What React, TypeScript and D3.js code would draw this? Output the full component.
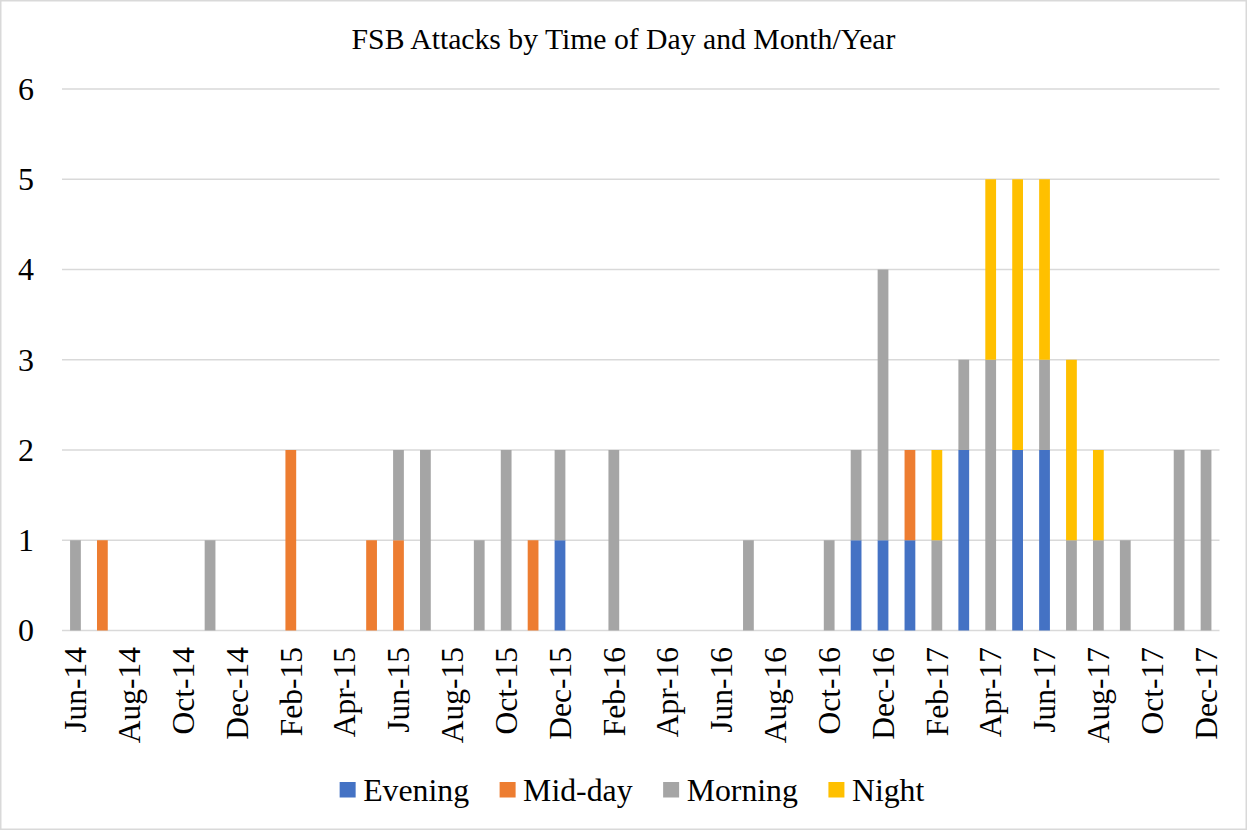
import React, { useEffect, useRef } from "react";
import * as d3 from "d3";

// Monthly categories, June 2014 through December 2017
const months = [
  "Jun-14", "Jul-14", "Aug-14", "Sep-14", "Oct-14", "Nov-14", "Dec-14",
  "Jan-15", "Feb-15", "Mar-15", "Apr-15", "May-15", "Jun-15", "Jul-15",
  "Aug-15", "Sep-15", "Oct-15", "Nov-15", "Dec-15", "Jan-16", "Feb-16",
  "Mar-16", "Apr-16", "May-16", "Jun-16", "Jul-16", "Aug-16", "Sep-16",
  "Oct-16", "Nov-16", "Dec-16", "Jan-17", "Feb-17", "Mar-17", "Apr-17",
  "May-17", "Jun-17", "Jul-17", "Aug-17", "Sep-17", "Oct-17", "Nov-17",
  "Dec-17",
];

// Attack counts per month for each time of day
const evening = [
  0, 0, 0, 0, 0, 0, 0, 0, 0, 0, 0, 0, 0, 0, 0, 0, 0, 0, 1, 0, 0, 0,
  0, 0, 0, 0, 0, 0, 0, 1, 1, 1, 0, 2, 0, 2, 2, 0, 0, 0, 0, 0, 0,
];
const midday = [
  0, 1, 0, 0, 0, 0, 0, 0, 2, 0, 0, 1, 1, 0, 0, 0, 0, 1, 0, 0, 0, 0,
  0, 0, 0, 0, 0, 0, 0, 0, 0, 1, 0, 0, 0, 0, 0, 0, 0, 0, 0, 0, 0,
];
const morning = [
  1, 0, 0, 0, 0, 1, 0, 0, 0, 0, 0, 0, 1, 2, 0, 1, 2, 0, 1, 0, 2, 0,
  0, 0, 0, 1, 0, 0, 1, 1, 3, 0, 1, 1, 3, 0, 1, 1, 1, 1, 0, 2, 2,
];
const night = [
  0, 0, 0, 0, 0, 0, 0, 0, 0, 0, 0, 0, 0, 0, 0, 0, 0, 0, 0, 0, 0, 0,
  0, 0, 0, 0, 0, 0, 0, 0, 0, 0, 1, 0, 2, 3, 2, 2, 1, 0, 0, 0, 0,
];

const seriesNames = ["Evening", "Mid-day", "Morning", "Night"];
const seriesColors = ["#4472C4", "#ED7D31", "#A5A5A5", "#FFC000"];
const yTicks = [0, 1, 2, 3, 4, 5, 6];
const chartTitle = "FSB Attacks by Time of Day and Month/Year";

const W = 1247;
const H = 830;
const FONT = "'Liberation Serif', 'Times New Roman', serif";

export default function App() {
  const ref = useRef<SVGSVGElement | null>(null);

  useEffect(() => {
    const svg = d3.select(ref.current);
    svg.selectAll("*").remove();

    const rows = months.map((m, i) => ({
      month: m,
      Evening: evening[i],
      "Mid-day": midday[i],
      Morning: morning[i],
      Night: night[i],
    }));

    const x = d3
      .scaleBand<string>()
      .domain(months)
      .range([62, 1219.5])
      .paddingInner(0.6)
      .paddingOuter(0.3);
    const y = d3.scaleLinear().domain([0, 6]).range([630.5, 89]);
    const color = d3.scaleOrdinal<string, string>().domain(seriesNames).range(seriesColors);

    // chart frame
    svg
      .append("rect")
      .attr("x", 0.75)
      .attr("y", 0.75)
      .attr("width", W - 1.5)
      .attr("height", H - 1.5)
      .attr("fill", "#ffffff")
      .attr("stroke", "#d9d9d9")
      .attr("stroke-width", 1.5);

    // title
    svg
      .append("text")
      .attr("x", W / 2)
      .attr("y", 49)
      .attr("text-anchor", "middle")
      .attr("font-family", FONT)
      .attr("font-size", 29.7)
      .attr("fill", "#000")
      .text(chartTitle);

    // horizontal gridlines and value labels
    const grid = svg.append("g");
    grid
      .selectAll("line")
      .data(yTicks)
      .join("line")
      .attr("x1", 62)
      .attr("x2", 1219.5)
      .attr("y1", (d) => y(d))
      .attr("y2", (d) => y(d))
      .attr("stroke", "#d9d9d9")
      .attr("stroke-width", 1.5);
    grid
      .selectAll("text")
      .data(yTicks)
      .join("text")
      .attr("x", 34)
      .attr("y", (d) => y(d))
      .attr("dy", "0.34em")
      .attr("text-anchor", "end")
      .attr("font-family", FONT)
      .attr("font-size", 32)
      .attr("fill", "#000")
      .text((d) => String(d));

    // stacked bars
    const stacked = d3.stack<any>().keys(seriesNames)(rows);
    svg
      .append("g")
      .selectAll("g")
      .data(stacked)
      .join("g")
      .attr("fill", (s) => color(s.key))
      .selectAll("rect")
      .data((s) => s.filter((d) => d[1] - d[0] > 0))
      .join("rect")
      .attr("x", (d) => x(d.data.month) as number)
      .attr("width", x.bandwidth())
      .attr("y", (d) => y(d[1]))
      .attr("height", (d) => y(d[0]) - y(d[1]));

    // category labels, every second month
    svg
      .append("g")
      .selectAll("text")
      .data(months.filter((_, i) => i % 2 === 0))
      .join("text")
      .attr(
        "transform",
        (m) => `translate(${(x(m) as number) + x.bandwidth() / 2},647) rotate(-90)`
      )
      .attr("dy", "0.34em")
      .attr("text-anchor", "end")
      .attr("font-family", FONT)
      .attr("font-size", 31.5)
      .attr("fill", "#000")
      .text((m) => m);

    // legend
    const legend = svg.append("g");
    const items = legend
      .selectAll("g")
      .data(seriesNames)
      .join("g");
    items
      .append("rect")
      .attr("width", 16)
      .attr("height", 15.5)
      .attr("y", 782)
      .attr("fill", (d) => color(d));
    items
      .append("text")
      .attr("x", 23.5)
      .attr("y", 801)
      .attr("font-family", FONT)
      .attr("font-size", 31.8)
      .attr("fill", "#000")
      .text((d) => d);
    let cursor = 0;
    const offsets: number[] = [];
    items.each(function () {
      const t = d3.select(this).select("text").node() as SVGTextElement;
      offsets.push(cursor);
      cursor += 23.5 + t.getComputedTextLength() + 30.5;
    });
    const total = cursor - 30.5;
    const start = 632 - total / 2;
    items.attr("transform", (_, i) => `translate(${start + offsets[i]},0)`);
  }, []);

  return (
    <svg
      ref={ref}
      width={W}
      height={H}
      style={{ position: "absolute", left: 0, top: 0, background: "#fff" }}
    />
  );
}
